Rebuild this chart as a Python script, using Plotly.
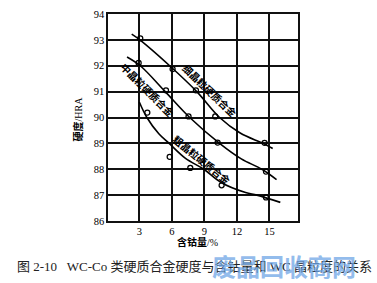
import plotly.graph_objects as go

# Measured points (cobalt content %, hardness HRA)
fine_pts_x = [3.09, 6.07, 8.22, 10.0, 14.55]
fine_pts_y = [93.06, 91.87, 91.05, 90.04, 89.02]
med_pts_x = [2.94, 5.46, 7.54, 10.22, 14.68]
med_pts_y = [92.11, 91.05, 90.04, 89.03, 87.91]
coarse_pts_x = [3.74, 5.8, 7.7, 10.59, 14.68]
coarse_pts_y = [90.19, 88.48, 88.05, 87.38, 86.91]

# Fitted curves
fine_curve_x = [2.3, 3.05, 5.8, 8.3, 10.4, 12.3, 14.4, 15.3]
fine_curve_y = [93.22, 93.0, 92.0, 91.0, 90.0, 89.4, 89.0, 88.8]
med_curve_x = [1.87, 3.09, 5.39, 7.65, 10.4, 12.4, 14.3, 15.65]
med_curve_y = [92.34, 92.0, 91.0, 90.0, 89.0, 88.4, 88.0, 87.6]
coarse_curve_x = [3.0, 3.7, 4.8, 5.75, 7.26, 8.95, 10.5, 12.8, 13.84, 16.0]
coarse_curve_y = [90.6, 90.0, 89.37, 89.0, 88.42, 88.0, 87.5, 87.1, 87.0, 86.72]

x_ticks = [3, 6, 9, 12, 15]
y_ticks = [86, 87, 88, 89, 90, 91, 92, 93, 94]

SERIF = "Liberation Serif, Noto Sans CJK SC"
CJK = "Noto Sans CJK SC"

L, R, T, B = 108, 298, 9, 221
W, H = R - L, B - T


def px(xp):
    return (xp - L) / W


def py(yp):
    return (B - yp) / H


fig = go.Figure()
for cx, cy in [(fine_curve_x, fine_curve_y), (med_curve_x, med_curve_y), (coarse_curve_x, coarse_curve_y)]:
    fig.add_trace(go.Scatter(x=cx, y=cy, mode="lines",
                             line=dict(color="black", width=1.6, shape="spline", smoothing=1.0),
                             showlegend=False, hoverinfo="skip"))
for mx, my in [(fine_pts_x, fine_pts_y), (med_pts_x, med_pts_y), (coarse_pts_x, coarse_pts_y)]:
    fig.add_trace(go.Scatter(x=mx, y=my, mode="markers",
                             marker=dict(symbol="circle-open", size=5, color="black", line=dict(width=1.3)),
                             showlegend=False, hoverinfo="skip"))

fig.update_layout(
    width=377, height=283,
    margin=dict(l=L, r=377 - R, t=T, b=283 - B),
    paper_bgcolor="white", plot_bgcolor="white",
    font=dict(family=SERIF, size=10.5, color="black"),
    xaxis=dict(range=[0.115, 17.63], tickvals=x_ticks, ticktext=[str(v) for v in x_ticks],
               showgrid=True, gridcolor="#111", gridwidth=1.5, zeroline=False,
               showline=True, mirror=True, linecolor="#111", linewidth=1.5, ticks=""),
    yaxis=dict(range=[86, 94], tickvals=y_ticks, ticktext=[str(v) for v in y_ticks],
               showgrid=True, gridcolor="#111", gridwidth=1.5, zeroline=False,
               showline=True, mirror=True, linecolor="#111", linewidth=1.5, ticks=""),
)

# curve labels
fig.add_annotation(x=9.54, y=91.06, text="<b>细晶粒硬质合金</b>", showarrow=False, textangle=44,
                   xanchor="center", yanchor="middle",
                   font=dict(family=CJK, size=10, color="black"))
fig.add_annotation(x=3.78, y=91.1, text="<b>中晶粒硬质合金</b>", showarrow=False, textangle=45,
                   xanchor="center", yanchor="middle",
                   font=dict(family=CJK, size=10, color="black"))
fig.add_annotation(x=8.76, y=88.38, text="<b>粗晶粒硬质合金</b>", showarrow=False, textangle=39,
                   xanchor="center", yanchor="middle",
                   font=dict(family=CJK, size=10, color="black"))

# axis titles
fig.add_annotation(xref="paper", yref="paper", x=px(78), y=py(117),
                   xanchor="center", yanchor="middle",
                   text="<b>硬度</b>/HRA", showarrow=False, textangle=-90,
                   font=dict(family=SERIF, size=10, color="black"))
fig.add_annotation(xref="paper", yref="paper", x=px(197), y=py(242),
                   xanchor="center", yanchor="middle",
                   text="<b>含钴量</b>/%", showarrow=False,
                   font=dict(family=SERIF, size=10, color="black"))
# caption
fig.add_annotation(xref="paper", yref="paper", x=px(15), y=py(268),
                   xanchor="left", yanchor="middle",
                   text="图 2-10   WC-Co 类硬质合金硬度与含钴量和 WC 晶粒度的关系",
                   showarrow=False, font=dict(family=SERIF, size=13, color="#222"))
# watermark
fig.add_annotation(xref="paper", yref="paper", x=px(284), y=py(267),
                   xanchor="center", yanchor="middle",
                   text="<b>废品回收商网</b>", showarrow=False, opacity=0.75,
                   font=dict(family=CJK, size=24, color="#6fa6e6"))

fig.write_html("out.html")
